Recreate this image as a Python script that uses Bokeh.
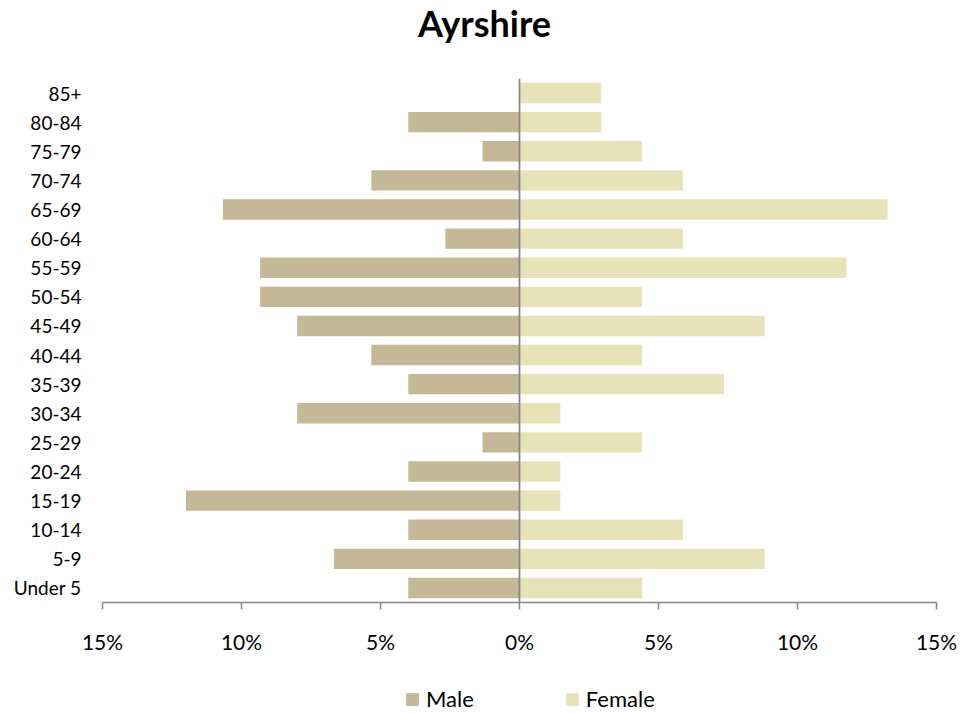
from bokeh.plotting import figure
from bokeh.layouts import column
from bokeh.models import (FactorRange, Range1d, FixedTicker, CustomJSTickFormatter,
                          Span, Label, Legend, LegendItem)
from bokeh.embed import file_html
from bokeh.resources import INLINE

# ---- data (percent of each sex) ----
age_groups = ["Under 5", "5-9", "10-14", "15-19", "20-24", "25-29", "30-34", "35-39",
              "40-44", "45-49", "50-54", "55-59", "60-64", "65-69", "70-74", "75-79",
              "80-84", "85+"]
male = [4.0, 6.67, 4.0, 12.0, 4.0, 1.33, 8.0, 4.0,
        5.33, 8.0, 9.33, 9.33, 2.67, 10.67, 5.33, 1.33,
        4.0, 0.0]
female = [4.41, 8.82, 5.88, 1.47, 1.47, 4.41, 1.47, 7.35,
          4.41, 8.82, 4.41, 11.76, 5.88, 13.24, 5.88, 4.41,
          2.94, 2.94]
x_ticks = [-15, -10, -5, 0, 5, 10, 15]
title_text = "Ayrshire"
series_names = ["Male", "Female"]

MALE_C = "#C4B896"
FEMALE_C = "#E8E2B8"
AXIS_C = "#868686"
FONT = "Lato"
W = 979
BL, BR = 102, 43


def bare(height):
    f = figure(width=W, height=height, x_range=Range1d(0, 1), y_range=Range1d(0, 1),
               x_axis_type=None, y_axis_type=None, output_backend="svg",
               toolbar_location=None, min_border_left=BL, min_border_right=BR,
               min_border_top=0, min_border_bottom=0)
    f.outline_line_color = None
    f.xgrid.visible = False
    f.ygrid.visible = False
    return f


# ---- title strip ----
pt = bare(50)
pt.add_layout(Label(x=382, y=28, x_units="screen", y_units="screen", text=title_text,
                    text_font=FONT, text_font_style="bold", text_font_size="36px",
                    text_align="center", text_baseline="alphabetic", text_color="black"))

# ---- main chart ----
male_left = [-v for v in male]
zeros = [0] * len(age_groups)

p = figure(width=W, height=623, y_range=FactorRange(*age_groups),
           x_range=Range1d(-15, 15), output_backend="svg", toolbar_location=None,
           min_border_left=BL, min_border_right=BR, min_border_top=28,
           min_border_bottom=71)
p.outline_line_color = None
p.xgrid.visible = False
p.ygrid.visible = False

p.hbar(y=age_groups, left=male_left, right=zeros, height=0.7,
       fill_color=MALE_C, line_color=None)
p.hbar(y=age_groups, left=zeros, right=female, height=0.7,
       fill_color=FEMALE_C, line_color=None)

p.add_layout(Span(location=0, dimension="height", line_color=AXIS_C, line_width=1.75))

xa = p.xaxis[0]
xa.ticker = FixedTicker(ticks=x_ticks)
xa.formatter = CustomJSTickFormatter(code="return Math.abs(tick) + '%';")
xa.axis_line_color = AXIS_C
xa.axis_line_width = 1.5
xa.major_tick_line_color = AXIS_C
xa.major_tick_line_width = 1.5
xa.major_tick_in = 0
xa.major_tick_out = 7
xa.minor_tick_line_color = None
xa.major_label_text_font = FONT
xa.major_label_text_font_size = "21px"
xa.major_label_text_color = "black"
xa.major_label_standoff = 19

ya = p.yaxis[0]
ya.axis_line_color = None
ya.major_tick_line_color = None
ya.minor_tick_line_color = None
ya.major_tick_out = 0
ya.major_label_text_font = FONT
ya.major_label_text_font_size = "19px"
ya.major_label_text_color = "black"
ya.major_label_standoff = 21

# ---- legend strip (legend swatches use off-view proxy renderers) ----
pl = bare(40)
lm = pl.hbar(y=[5], left=[5], right=[6], height=0.5, fill_color=MALE_C, line_color=None)
lf = pl.hbar(y=[5], left=[5], right=[6], height=0.5, fill_color=FEMALE_C, line_color=None)
legend = Legend(items=[LegendItem(label=series_names[0], renderers=[lm]),
                       LegendItem(label=series_names[1], renderers=[lf])],
                orientation="horizontal", location=(302, 1),
                glyph_width=16, glyph_height=16, label_standoff=6, spacing=90,
                padding=0, margin=0, border_line_color=None,
                background_fill_alpha=0,
                label_text_font=FONT, label_text_font_size="22px",
                label_text_color="black")
pl.add_layout(legend)

layout = column(pt, p, pl, spacing=0)
open("out.html", "w").write(file_html(layout, INLINE))
